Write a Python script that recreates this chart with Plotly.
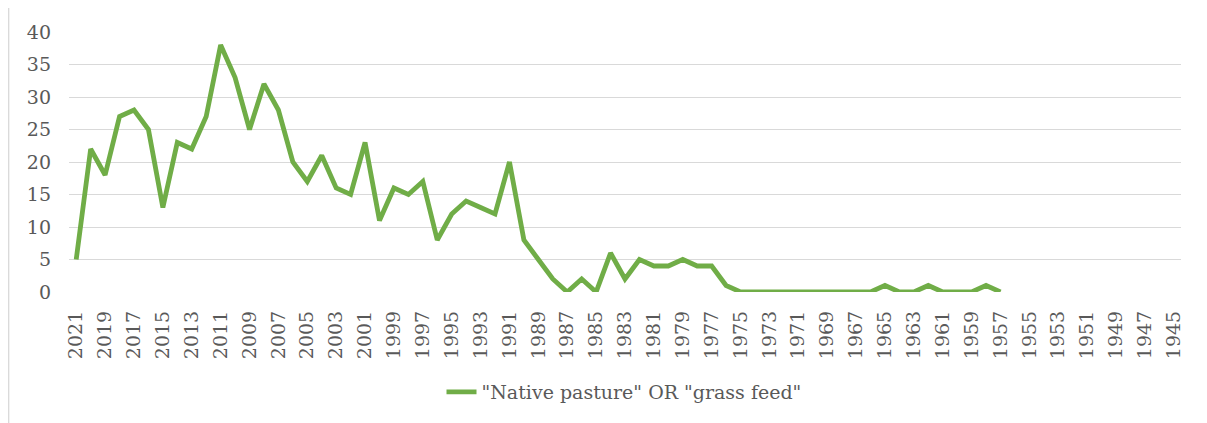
import plotly.graph_objects as go

# Categories: years from 2021 down to 1945
years = [str(y) for y in range(2021, 1944, -1)]
# Values for 2021 .. 1957 (one per year)
data_years = [str(y) for y in range(2021, 1956, -1)]
values = [5, 22, 18, 27, 28, 25, 13, 23, 22, 27,
          38, 33, 25, 32, 28, 20, 17, 21, 16, 15,
          23, 11, 16, 15, 17, 8, 12, 14, 13, 12,
          20, 8, 5, 2, 0, 2, 0, 6, 2, 5,
          4, 4, 5, 4, 4, 1, 0, 0, 0, 0,
          0, 0, 0, 0, 0, 0, 1, 0, 0, 1,
          0, 0, 0, 1, 0]
tick_labels = [str(y) for y in range(2021, 1944, -2)]
y_ticks = [0, 5, 10, 15, 20, 25, 30, 35, 40]
series_name = '"Native pasture" OR "grass feed"'

OFF = 8  # page body margin
W, H = 1207 - OFF, 423 - OFF
L, R, T, B = 69 - OFF, 26, 32 - OFF, 131
pw = W - L - R
ph = H - T - B

FONT = "DejaVu Serif"
txt = "#595959"
grid = "#D9D9D9"

fig = go.Figure()
fig.add_trace(go.Scatter(
    x=data_years, y=values, mode="lines", name=series_name,
    line=dict(color="#70AD47", width=4.8, shape="linear"),
    showlegend=True,
))

fig.update_layout(
    width=W, height=H,
    margin=dict(l=L, r=R, t=T, b=B, autoexpand=False),
    paper_bgcolor="white", plot_bgcolor="white",
    font=dict(family=FONT, color=txt, size=19),
    xaxis=dict(
        type="category", categoryorder="array", categoryarray=years,
        range=[-0.5, len(years) - 0.5],
        tickmode="array", tickvals=tick_labels, ticktext=tick_labels,
        tickangle=-90, showgrid=False, zeroline=False,
        showline=False, ticks="", ticklabelstandoff=14,
        tickfont=dict(size=19, color=txt, family=FONT),
    ),
    yaxis=dict(
        range=[0, 40], tickmode="array", tickvals=y_ticks,
        showgrid=True, gridcolor=grid, gridwidth=1.3, zeroline=False,
        showline=False, ticks="", ticklabelstandoff=17,
        tickfont=dict(size=19, color=txt, family=FONT),
    ),
    legend=dict(
        orientation="h", x=(624 - OFF - L) / pw, xanchor="center",
        y=-(392 - OFF - (T + ph)) / ph, yanchor="middle",
        font=dict(size=19, color=txt, family=FONT),
        bgcolor="rgba(0,0,0,0)",
    ),
    shapes=[dict(
        type="rect", xref="paper", yref="paper",
        x0=(0.7 - L) / pw, x1=(1215 - L) / pw,
        y0=-(440 - (T + ph)) / ph, y1=1 + (T + 20) / ph,
        line=dict(color=grid, width=1.3), fillcolor="rgba(0,0,0,0)",
        layer="below",
    )],
)

fig.write_html("out.html")
